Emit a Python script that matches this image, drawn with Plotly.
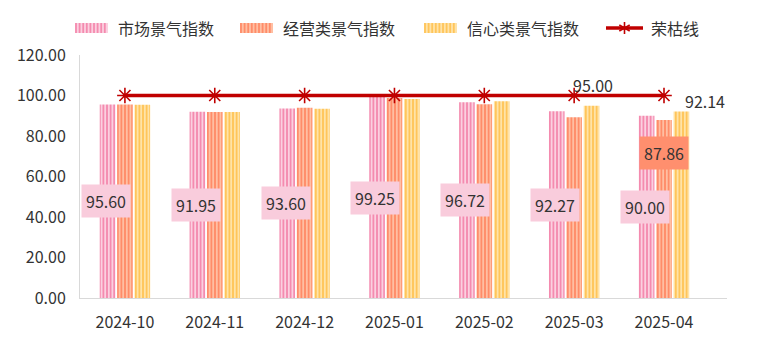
import math
import plotly.graph_objects as go

categories = ["2024-10", "2024-11", "2024-12", "2025-01", "2025-02", "2025-03", "2025-04"]
market = [95.60, 91.95, 93.60, 99.25, 96.72, 92.27, 90.00]
business = [95.5, 91.9, 93.9, 98.8, 95.7, 89.2, 87.86]
confidence = [95.4, 91.8, 93.5, 98.3, 97.2, 95.00, 92.14]
boom_line = [100, 100, 100, 100, 100, 100, 100]
yticks = [0, 20, 40, 60, 80, 100, 120]
series_names = ["市场景气指数", "经营类景气指数", "信心类景气指数", "荣枯线"]

FONT = "Noto Sans CJK SC, Microsoft YaHei, sans-serif"
TXT = "#333333"
W, H = 769, 344
ML, MR, MT, MB = 80, 42, 55, 46
PW, PH = W - ML - MR, H - MT - MB

colors = [("#F48BAF", "#FBD0E0"), ("#FF8C69", "#FFBFA3"), ("#FFC55A", "#FFE3A8")]
LINE_COLOR = "#C00000"

fig = go.Figure()

for name, vals, (fg, bg) in zip(series_names[:3], [market, business, confidence], colors):
    fig.add_trace(go.Bar(
        name=name, x=categories, y=vals, showlegend=False,
        marker=dict(color=bg, line=dict(width=0),
                    pattern=dict(shape="|", fgcolor=fg, bgcolor=bg, size=3.6, solidity=0.5, fillmode="replace")),
    ))

fig.add_trace(go.Scatter(
    name=series_names[3], x=categories, y=boom_line, mode="lines+markers", showlegend=False,
    line=dict(color=LINE_COLOR, width=3.5),
    marker=dict(symbol="asterisk-open", size=13, color=LINE_COLOR, line=dict(color=LINE_COLOR, width=1.6)),
))

# pink labels (market index) centered in bars
for c, v in zip(categories, market):
    fig.add_annotation(x=c, y=v / 2, text=f"{v:.2f}", showarrow=False, xshift=-19,
                       bgcolor="#F9CCDC", borderpad=4,
                       font=dict(size=16, color=TXT, family=FONT))

# business label for last month
fig.add_annotation(x=categories[6], y=71.5, text=f"{business[6]:.2f}", showarrow=False, xshift=0,
                   bgcolor="#FF8F6E", borderpad=4, font=dict(size=16, color=TXT, family=FONT))

# confidence labels
fig.add_annotation(x=categories[5], y=105.2, text=f"{confidence[5]:.2f}", showarrow=False, xshift=19,
                   font=dict(size=16, color=TXT, family=FONT))
fig.add_annotation(x=categories[6], y=97.4, text=f"{confidence[6]:.2f}", showarrow=False, xshift=41,
                   font=dict(size=16, color=TXT, family=FONT))

# custom legend (striped swatches) in paper coordinates
def px2x(px):
    return (px - ML) / PW

def py2y(py):
    return (H - MB - py) / PH

legend_y = 28
swatch_x = [75, 240, 424, 606]
sw_w, sw_h = 33, 10
for i, name in enumerate(series_names):
    x0 = swatch_x[i]
    if i < 3:
        fg, bg = colors[i]
        fig.add_shape(type="rect", xref="paper", yref="paper",
                      x0=px2x(x0), x1=px2x(x0 + sw_w),
                      y0=py2y(legend_y + sw_h / 2), y1=py2y(legend_y - sw_h / 2),
                      fillcolor=bg, line=dict(width=0))
        sx = x0 + 1
        while sx < x0 + sw_w:
            fig.add_shape(type="line", xref="paper", yref="paper",
                          x0=px2x(sx), x1=px2x(sx),
                          y0=py2y(legend_y + sw_h / 2), y1=py2y(legend_y - sw_h / 2),
                          line=dict(color=fg, width=1.8))
            sx += 3.6
        tx = x0 + sw_w + 8
    else:
        fig.add_shape(type="line", xref="paper", yref="paper",
                      x0=px2x(x0), x1=px2x(x0 + 37),
                      y0=py2y(legend_y), y1=py2y(legend_y),
                      line=dict(color=LINE_COLOR, width=3.5))
        cx, cy, r = x0 + 18.5, legend_y, 6
        for ang in (90, 30, 150):
            dx = r * math.cos(math.radians(ang))
            dy = r * math.sin(math.radians(ang))
            fig.add_shape(type="line", xref="paper", yref="paper",
                          x0=px2x(cx - dx), x1=px2x(cx + dx),
                          y0=py2y(cy - dy), y1=py2y(cy + dy),
                          line=dict(color=LINE_COLOR, width=1.6))
        tx = x0 + 43
    fig.add_annotation(xref="paper", yref="paper", x=px2x(tx), y=py2y(legend_y),
                       xanchor="left", yanchor="middle", text=name, showarrow=False,
                       font=dict(size=16, color=TXT, family=FONT))

fig.update_layout(
    width=W, height=H,
    margin=dict(l=ML, r=MR, t=MT, b=MB),
    paper_bgcolor="white", plot_bgcolor="white",
    barmode="group", bargap=0.42, bargroupgap=0.1,
    font=dict(family=FONT, size=16, color=TXT),
    showlegend=False,
    xaxis=dict(type="category", showgrid=False, showline=True, linecolor="#D9D9D9", linewidth=1,
               ticks="", ticklabelstandoff=10, tickfont=dict(size=16, color=TXT, family=FONT)),
    yaxis=dict(range=[0, 120], tickvals=yticks, tickformat=".2f", showgrid=False,
               showline=True, linecolor="#D9D9D9", linewidth=1, zeroline=False,
               ticks="", ticklabelstandoff=10, tickfont=dict(size=16, color=TXT, family=FONT)),
)

fig.write_html("out.html")
